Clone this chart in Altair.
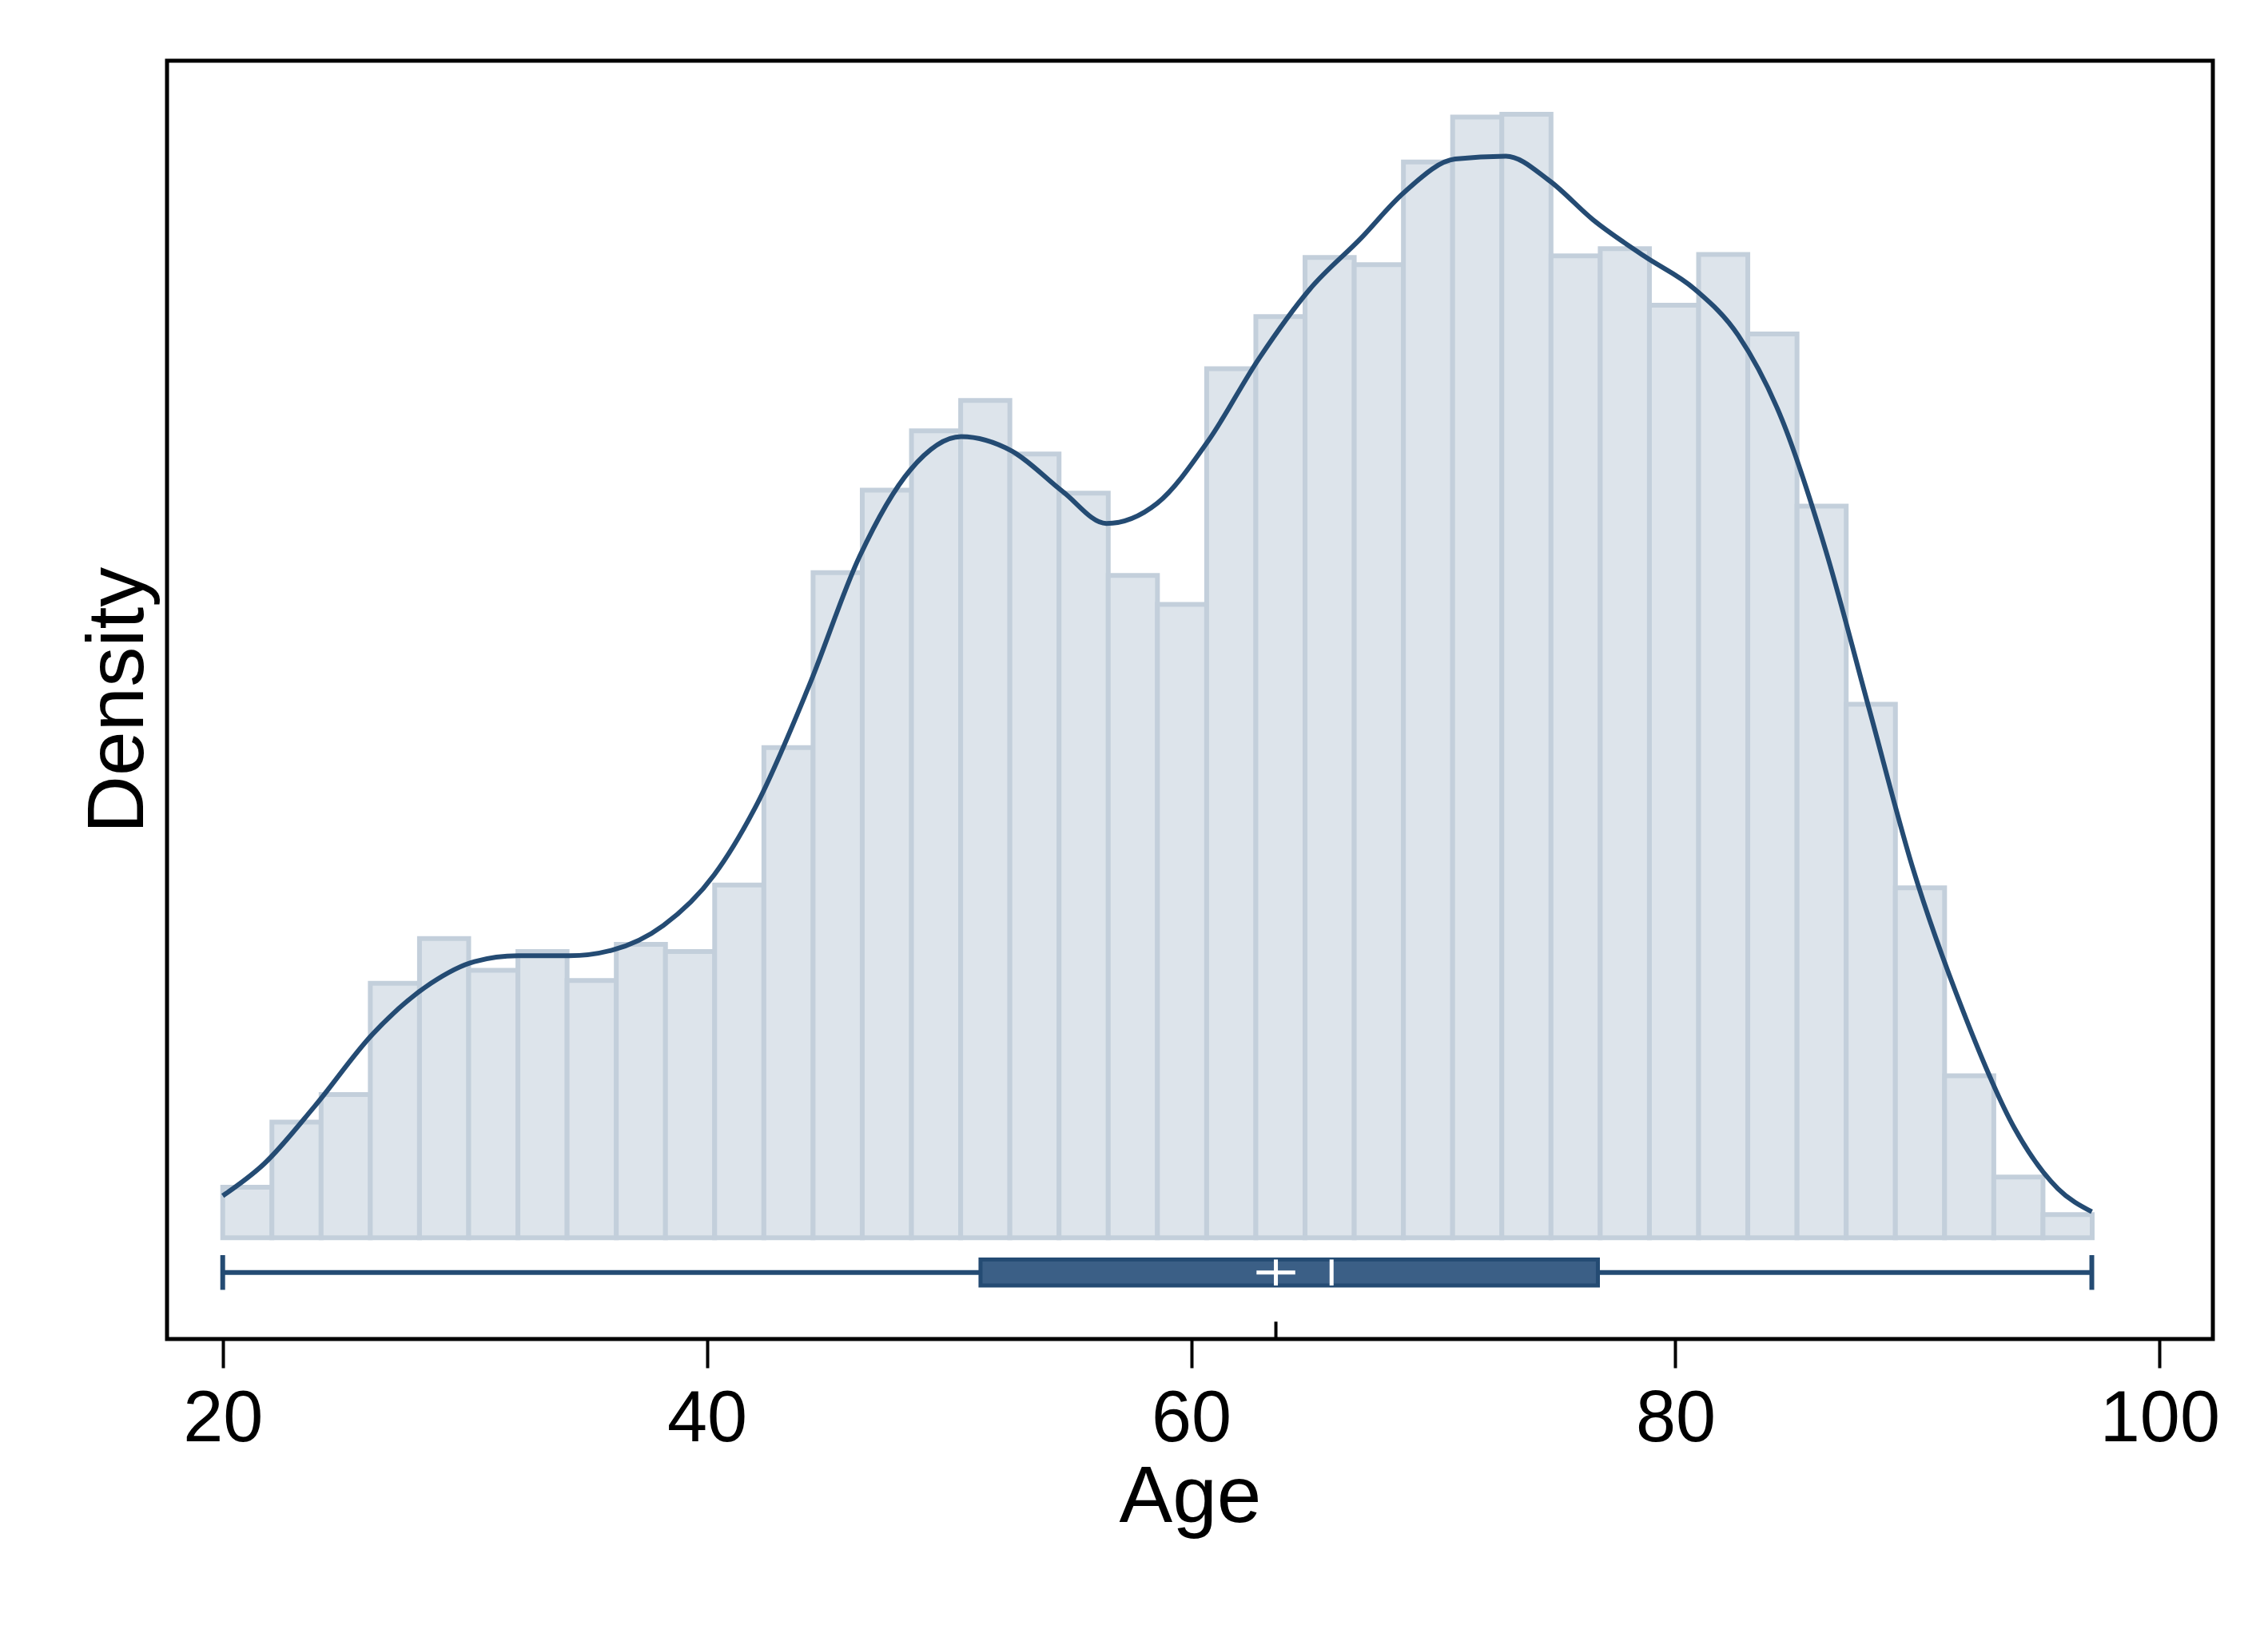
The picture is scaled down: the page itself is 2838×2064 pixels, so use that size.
import altair as alt
import pandas as pd

# histogram (heights in relative density units)
bin_start = 20.0
bin_width = 2.032
heights = [35, 80, 99, 176, 207, 185, 198, 178, 203, 198, 244, 339, 460, 517,
           558, 579, 542, 515, 458, 438, 601, 637, 678, 673, 744, 775, 777, 679,
           684, 645, 680, 625, 506, 369, 242, 112, 42, 16]

# kernel density curve
kde_age = [20.0, 21.7, 23.8, 26.2, 28.6, 30.4, 32.2, 34.3, 36.1, 38.2, 40.3, 42.1,
           44.2, 46.3, 48.4, 50.5, 52.6, 54.7, 56.5, 58.6, 60.7, 62.8, 64.9, 67.0,
           68.8, 70.9, 73.0, 74.8, 76.6, 78.7, 80.8, 82.6, 84.4, 86.2, 88.0, 89.8,
           91.9, 94.0, 95.8, 97.2]
kde_val = [29, 51, 91, 141, 176, 191, 195, 195, 199, 216, 251, 301, 381, 471, 531,
           554, 544, 516, 494, 508, 551, 608, 656, 691, 723, 746, 748, 731, 704, 679,
           656, 624, 566, 476, 366, 256, 156, 76, 34, 18]

# box plot summary
age_min, q1, median, q3, age_max, mean = 20.0, 51.3, 65.8, 76.8, 97.2, 63.5

NAVY = "#244b73"
XD = [17.7, 102.2]
YD = [-70, 814]
xs = alt.Scale(domain=XD, nice=False, zero=False)
ys = alt.Scale(domain=YD, nice=False, zero=False)

hist = pd.DataFrame({
    "x": [bin_start + i * bin_width for i in range(len(heights))],
    "x2": [bin_start + (i + 1) * bin_width for i in range(len(heights))],
    "h": heights,
})
kde = pd.DataFrame({"age": kde_age, "d": kde_val})

bars = alt.Chart(hist).mark_rect(fill="#dde4eb", stroke="#c3cfdb", strokeWidth=6).encode(
    x=alt.X("x:Q", scale=xs, title="Age",
            axis=alt.Axis(values=[20, 40, 60, 80, 100], grid=False, domain=False,
                          tickSize=36, tickWidth=4, tickColor="black",
                          labelFontSize=90, titleFontSize=100, labelPadding=20,
                          labelColor="black", titleColor="black", titleFontWeight="normal",
                          labelFont="Liberation Sans", titleFont="Liberation Sans")),
    x2="x2:Q",
    y=alt.Y("h:Q", scale=ys, title="Density",
            axis=alt.Axis(labels=False, ticks=False, domain=False, grid=False,
                          titleFontSize=100, titleColor="black", titleFontWeight="normal",
                          titleFont="Liberation Sans", titlePadding=10)),
    y2=alt.datum(0),
)

line = alt.Chart(kde).mark_line(color=NAVY, strokeWidth=6, interpolate="monotone").encode(
    x=alt.X("age:Q", scale=xs), y=alt.Y("d:Q", scale=ys))

box_df = pd.DataFrame({"lo": [age_min], "q1": [q1], "med": [median], "q3": [q3],
                       "hi": [age_max], "mean": [mean]})
base = alt.Chart(box_df)
whisker = base.mark_rule(color=NAVY, strokeWidth=6).encode(
    x=alt.X("lo:Q", scale=xs), x2="hi:Q", y=alt.datum(-24, scale=ys))
caps_lo = base.mark_rule(color=NAVY, strokeWidth=6).encode(
    x=alt.X("lo:Q", scale=xs), y=alt.datum(-36, scale=ys), y2=alt.datum(-12))
caps_hi = base.mark_rule(color=NAVY, strokeWidth=6).encode(
    x=alt.X("hi:Q", scale=xs), y=alt.datum(-36, scale=ys), y2=alt.datum(-12))
box = base.mark_rect(fill="#3b5f86", stroke=NAVY, strokeWidth=5).encode(
    x=alt.X("q1:Q", scale=xs), x2="q3:Q", y=alt.datum(-33, scale=ys), y2=alt.datum(-15))
med = base.mark_rule(color="white", strokeWidth=5).encode(
    x=alt.X("med:Q", scale=xs), y=alt.datum(-33, scale=ys), y2=alt.datum(-15))
mean_v = base.mark_rule(color="white", strokeWidth=5).encode(
    x=alt.X("mean:Q", scale=xs), y=alt.datum(-33, scale=ys), y2=alt.datum(-15))
mean_h = base.mark_rule(color="white", strokeWidth=5).transform_calculate(
    a="datum.mean - 0.8", b="datum.mean + 0.8").encode(
    x=alt.X("a:Q", scale=xs), x2="b:Q", y=alt.datum(-24, scale=ys))
mean_tick = base.mark_rule(color="black", strokeWidth=4).encode(
    x=alt.X("mean:Q", scale=xs), y=alt.datum(-70, scale=ys), y2=alt.datum(-58))

chart = alt.layer(bars, line, whisker, caps_lo, caps_hi, box, med, mean_v, mean_h,
                  mean_tick).properties(
    width=2560, height=1600, background="white",
    padding={"left": 90, "top": 68, "right": 40, "bottom": 20}
).configure_view(stroke="black", strokeWidth=5)

chart.save("out.html", embed_options={"renderer": "svg", "actions": False})
